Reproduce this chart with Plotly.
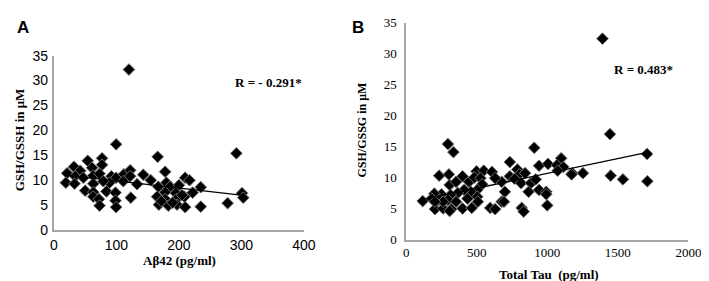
import numpy as np
import plotly.graph_objects as go

# Panel A: Abeta42 vs GSH/GSSG
abeta42 = [120, 99.5, 54, 77, 77, 32, 61, 21, 42, 34,
           47, 63, 73, 19, 33, 92, 99.5, 112, 122, 122,
           143, 111, 133, 89, 79, 63, 50, 63, 84, 98.5,
           63, 72, 73, 98.5, 99.5, 123,
           166, 292, 178, 155, 180, 210, 217, 167, 186, 200,
           235, 222, 178, 195, 165, 209, 178, 196, 168, 183,
           197, 210, 235, 278, 301, 303, 172, 190, 205]
gsh_a = [32.2, 17.2, 13.9, 14.4, 13.1, 12.7, 12.5, 11.4, 11.9, 10.8,
         10.5, 10.9, 11.3, 9.5, 9.3, 10.8, 10.5, 11.2, 12.0, 10.8,
         11.1, 9.8, 9.2, 9.5, 9.8, 9.3, 7.9, 7.6, 7.75, 7.5,
         6.7, 6.2, 4.9, 5.9, 4.6, 6.5,
         14.7, 15.4, 11.7, 10.0, 9.5, 10.5, 10.0, 8.7, 8.7, 9.0,
         8.6, 7.5, 7.6, 7.4, 6.7, 6.7, 6.2, 6.2, 5.1, 4.9,
         5.1, 4.6, 4.7, 5.4, 7.4, 6.5, 5.8, 5.5, 7.0]

# Panel B: Total Tau vs GSH/GSSG
total_tau = [295, 334, 233, 302, 399, 307, 353, 445, 498, 549,
             607, 482, 526, 538, 503, 457, 410, 365, 314, 249,
             199, 116, 180, 230, 295, 353, 434, 503, 203, 261,
             318, 399, 464, 507, 595, 261, 307, 203,
             907, 734, 1098, 941, 1005, 1068, 1114, 1176, 1252, 1073,
             1172, 787, 803, 734, 842, 768, 814, 883, 918, 676,
             630, 699, 867, 941, 992, 992, 676, 630, 818, 832,
             999, 692,
             1444, 1707, 1449, 1536, 1709, 1391]
gsh_b = [15.4, 14.1, 10.3, 10.5, 10.2, 8.8, 9.3, 9.3, 11.0, 11.1,
         10.9, 10.0, 9.9, 8.9, 8.0, 7.7, 8.0, 7.5, 7.2, 7.3,
         7.4, 6.2, 6.6, 6.4, 6.4, 6.1, 6.6, 6.9, 4.9, 5.0,
         4.9, 5.0, 5.1, 6.1, 5.1, 6.1, 4.6, 6.1,
         14.8, 12.5, 13.1, 11.9, 12.2, 12.0, 11.7, 10.7, 10.7, 11.1,
         10.5, 11.3, 10.5, 10.2, 10.7, 9.8, 9.1, 9.1, 9.7, 9.3,
         9.9, 7.7, 7.7, 8.0, 7.7, 7.3, 6.1, 4.9, 5.1, 4.5,
         5.5, 6.1,
         17.0, 13.8, 10.3, 9.7, 9.4, 32.4]

y_ticks = [0, 5, 10, 15, 20, 25, 30, 35]
xa_ticks = [0, 100, 200, 300, 400]
xb_ticks = [0, 500, 1000, 1500, 2000]
r_a = "R = - 0.291*"
r_b = "R = 0.483*"


def trend(x, y):
    x = np.asarray(x, float)
    y = np.asarray(y, float)
    m, c = np.polyfit(x, y, 1)
    xs = np.array([x.min(), x.max()])
    return xs, m * xs + c


marker = dict(symbol="diamond", size=9, color="black",
              line=dict(color="#707070", width=1))

fig = go.Figure()
fig.add_trace(go.Scatter(x=abeta42, y=gsh_a, mode="markers", marker=marker,
                         xaxis="x", yaxis="y", showlegend=False))
tx, ty = trend(abeta42, gsh_a)
fig.add_trace(go.Scatter(x=tx, y=ty, mode="lines", line=dict(color="black", width=1.3),
                         xaxis="x", yaxis="y", showlegend=False))
fig.add_trace(go.Scatter(x=total_tau, y=gsh_b, mode="markers", marker=marker,
                         xaxis="x2", yaxis="y2", showlegend=False))
tx, ty = trend(total_tau, gsh_b)
fig.add_trace(go.Scatter(x=tx, y=ty, mode="lines", line=dict(color="black", width=1.3),
                         xaxis="x2", yaxis="y2", showlegend=False))

W, H = 709, 281
sans = "Liberation Sans, Arial, sans-serif"
serif = "Liberation Serif, Times New Roman, serif"

axis_common = dict(showgrid=False, zeroline=False, showline=True,
                   linecolor="#a6a6a6", linewidth=2, ticks="")

fig.update_layout(
    width=W, height=H, margin=dict(l=0, r=0, t=0, b=0),
    paper_bgcolor="white", plot_bgcolor="white",
    xaxis=dict(domain=[43 / W, 299 / W], range=[0, 400], tickvals=xa_ticks,
               tickfont=dict(family=sans, size=14, color="black"),
               ticklabelstandoff=1, anchor="y", **axis_common),
    yaxis=dict(domain=[1 - 227 / H, 1 - 42 / H], range=[0, 35], tickvals=y_ticks,
               tickfont=dict(family=sans, size=14, color="black"),
               ticklabelstandoff=1, anchor="x", **axis_common),
    xaxis2=dict(domain=[404 / W, 693 / W], range=[0, 2000], tickvals=xb_ticks,
                tickfont=dict(family=serif, size=13, color="black"),
                ticklabelstandoff=0, anchor="y2", **axis_common),
    yaxis2=dict(domain=[1 - 237 / H, 1 - 7 / H], range=[0, 35], tickvals=y_ticks,
                tickfont=dict(family=serif, size=13, color="black"),
                ticklabelstandoff=5, anchor="x2", **axis_common),
)


def note(text, x, y, font, size, angle=0):
    return dict(text=text, x=x / W, y=1 - y / H, xref="paper", yref="paper",
                xanchor="center", yanchor="middle", textangle=angle,
                showarrow=False, font=dict(family=font, size=size, color="black"))


ann = [
    note("<b>A</b>", 11, 12, sans, 17),
    note("<b>B</b>", 354, 12, sans, 17),
    note("<b>GSH/GSSH in μM</b>", 8, 131, serif, 13, -90),
    note("<b>GSH/GSSG in μM</b>", 359, 121, serif, 12, -90),
    note("<b>Aβ42 (pg/ml)</b>", 172, 259, serif, 13),
    note("<b>Total Tau  (pg/ml)</b>", 550, 274, serif, 13),
    note("<b>" + r_a + "</b>", 263, 70, serif, 13),
    note("<b>" + r_b + "</b>", 647, 57, serif, 13),
]
fig.update_layout(annotations=ann)

fig.write_html("out.html")
